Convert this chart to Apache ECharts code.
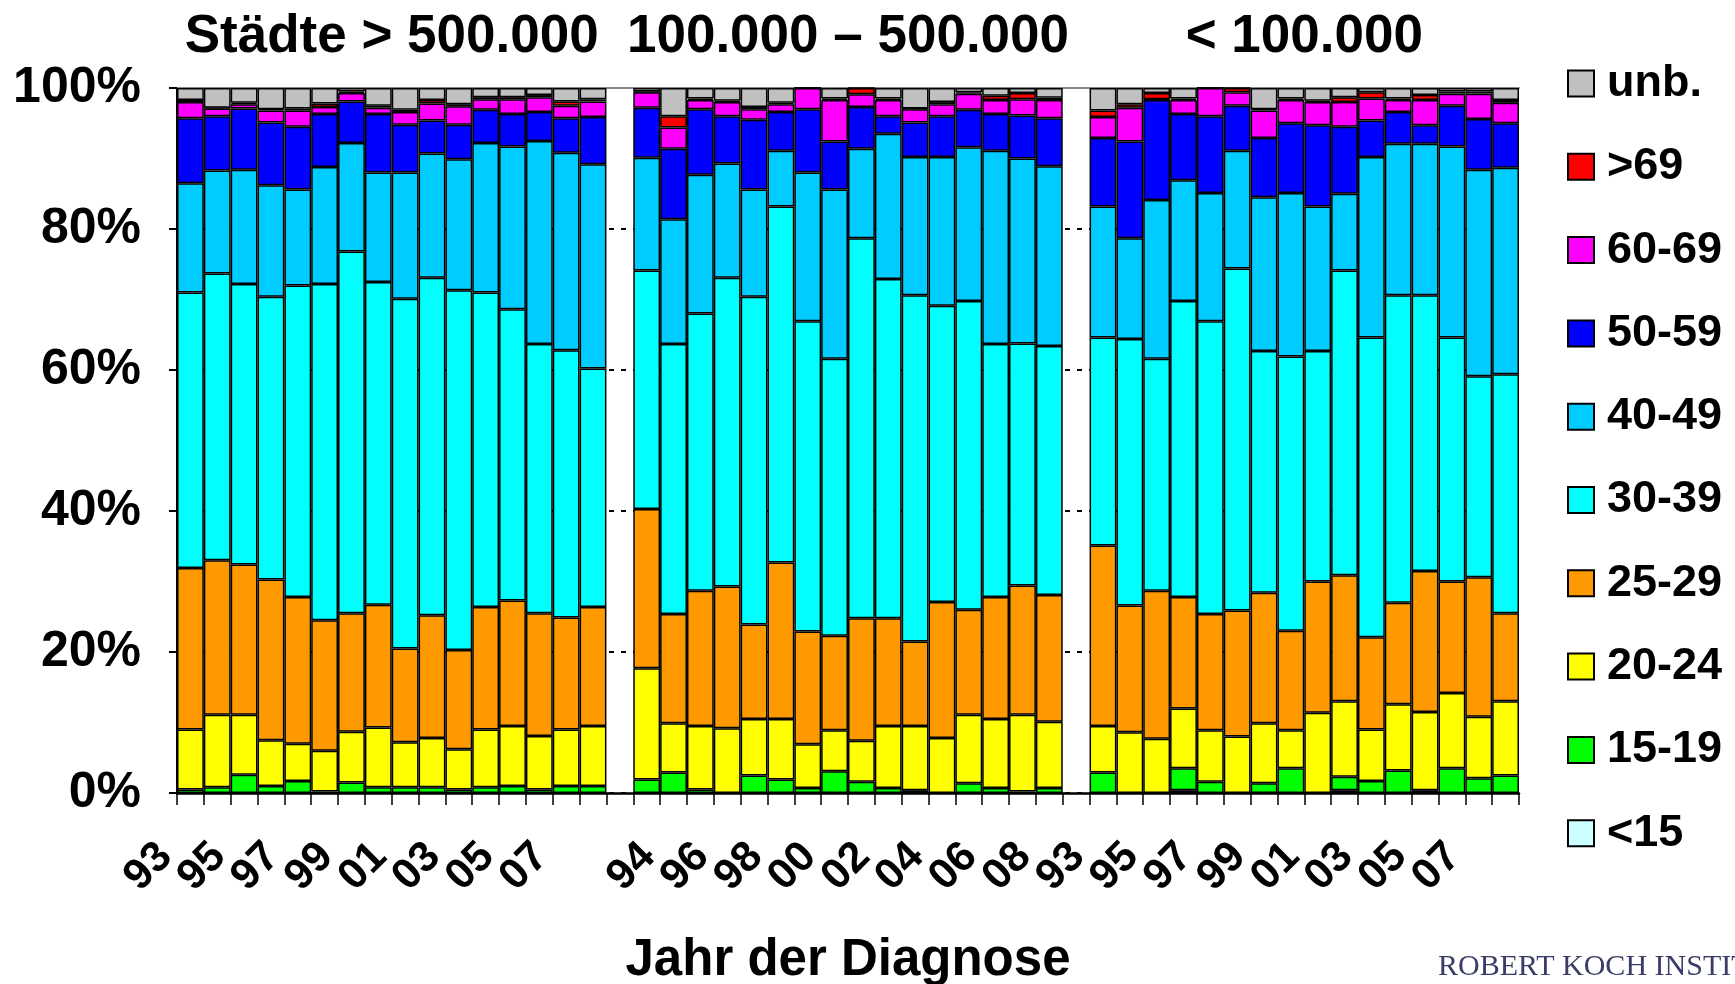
<!DOCTYPE html>
<html>
<head>
<meta charset="utf-8">
<script src="https://cdn.jsdelivr.net/npm/echarts@6/dist/echarts.min.js"></script>
<style>
  html, body { margin: 0; padding: 0; background: #ffffff; }
  #chart { width: 1735px; height: 984px; }
</style>
</head>
<body>
<div id="chart"></div>
<script>
// Diagnosis years shown in each of the three city-size panels
const years = ['93','94','95','96','97','98','99','00','01','02','03','04','05','06','07','08'];
const panelTitles = ['Städte > 500.000', '100.000 – 500.000', '< 100.000'];
const axisTitle = 'Jahr der Diagnose';
const sourceText = 'ROBERT KOCH INSTITUT';

// Age groups from the bottom of each stack to the top
const ageGroups = ['<15', '15-19', '20-24', '25-29', '30-39', '40-49', '50-59', '60-69', '>69', 'unb.'];
const groupColors = ['#CCFFFF', '#00FF00', '#FFFF00', '#FF9900', '#00FFFF', '#00CCFF', '#0000FF', '#FF00FF', '#FF0000', '#C0C0C0'];

// Shares in percent: 16 years for > 500.000, then 100.000–500.000, then < 100.000
const ageLt15 = [
  0, 0, 0, 0, 0, 0, 0, 0, 0, 0, 0, 0, 0, 0, 0, 0,
  0, 0, 0, 0, 0, 0, 0, 0, 0, 0, 0, 0, 0, 0, 0, 0,
  0, 0, 0, 0.4, 0, 0, 0, 0, 0, 0.4, 0, 0, 0, 0, 0, 0
];
const age15to19 = [
  0.5, 0.8, 2.6, 1.0, 1.7, 0.2, 1.5, 0.8, 0.8, 0.8, 0.5, 0.8, 1.0, 0.5, 1.0, 1.0,
  1.9, 2.9, 0.5, 0, 2.5, 1.9, 0.7, 3.1, 1.6, 0.7, 0.4, 0, 1.4, 0.7, 0.2, 0.7,
  2.9, 0, 0, 3.1, 1.6, 0, 1.4, 3.5, 0, 1.9, 1.7, 3.2, 0.4, 3.5, 2.1, 2.5
];
const age20to24 = [
  8.5, 10.3, 8.5, 6.5, 5.3, 5.8, 7.2, 8.5, 6.4, 7.0, 5.7, 8.2, 8.5, 7.6, 8.0, 8.5,
  15.8, 7.0, 9.0, 9.2, 8.0, 8.6, 6.2, 5.8, 5.8, 8.8, 9.1, 7.8, 9.7, 9.8, 10.9, 9.4,
  6.6, 8.6, 7.7, 8.5, 7.3, 8.0, 8.5, 5.4, 11.4, 10.7, 7.3, 9.4, 11.1, 10.7, 8.7, 10.5
];
const age25to29 = [
  22.9, 21.9, 21.3, 22.8, 20.8, 18.5, 16.8, 17.4, 13.3, 17.4, 14.1, 17.4, 17.8, 17.4, 15.9, 16.9,
  22.6, 15.5, 19.2, 20.1, 13.4, 22.2, 16.0, 13.4, 17.4, 15.3, 12.0, 19.3, 14.9, 17.3, 18.3, 18.0,
  25.6, 18.0, 21.0, 15.8, 16.5, 17.9, 18.5, 14.1, 18.6, 17.9, 13.1, 14.4, 20.0, 15.8, 19.8, 12.5
];
const age30to39 = [
  39.1, 40.7, 39.8, 40.1, 44.2, 47.7, 51.3, 45.8, 49.6, 47.9, 51.0, 44.6, 41.3, 38.2, 37.9, 33.8,
  33.8, 38.3, 39.3, 43.8, 46.5, 50.5, 44.0, 39.3, 53.9, 48.1, 49.1, 42.0, 43.8, 35.9, 34.3, 35.3,
  29.5, 37.8, 32.9, 42.0, 41.5, 48.5, 34.3, 38.9, 32.7, 43.2, 42.5, 43.6, 39.1, 34.6, 28.5, 33.9
];
const age40to49 = [
  15.5, 14.6, 16.2, 15.8, 13.6, 16.6, 15.4, 15.5, 17.9, 17.6, 18.6, 21.2, 23.1, 28.8, 28.0, 29.0,
  16.0, 17.7, 19.7, 16.2, 15.2, 7.9, 21.1, 24.0, 12.7, 20.6, 19.6, 21.1, 21.8, 27.4, 26.2, 25.5,
  18.6, 14.3, 22.5, 17.1, 18.2, 16.7, 21.8, 23.2, 20.5, 10.9, 25.6, 21.5, 21.5, 27.1, 29.3, 29.3
];
const age50to59 = [
  9.2, 7.7, 8.7, 8.9, 8.9, 7.5, 5.9, 8.3, 6.8, 4.7, 4.9, 4.7, 4.6, 4.1, 4.9, 6.7,
  7.1, 10.0, 9.3, 6.7, 9.9, 5.5, 9.0, 6.8, 5.9, 2.5, 4.9, 5.8, 5.3, 5.2, 6.1, 6.8,
  9.7, 13.7, 14.2, 9.4, 10.9, 6.4, 8.4, 9.9, 11.5, 9.5, 5.2, 4.5, 2.6, 5.8, 7.2, 6.3
];
const age60to69 = [
  2.3, 1.1, 0.6, 1.7, 2.3, 1.0, 1.2, 0.9, 1.8, 2.4, 2.6, 1.5, 2.1, 2.1, 1.8, 2.2,
  2.2, 3.0, 1.3, 2.0, 1.5, 1.1, 3.0, 5.9, 1.8, 2.3, 1.9, 1.7, 2.3, 2.0, 2.3, 2.6,
  3.0, 4.8, 0.1, 2.0, 4.0, 1.9, 3.9, 3.3, 3.3, 3.5, 3.1, 1.7, 3.6, 1.7, 3.6, 2.9
];
const ageGt69 = [
  0.3, 0.1, 0.2, 0.2, 0.3, 0.5, 0.2, 0.3, 0.3, 0.5, 0.3, 0.3, 0.3, 0.3, 0.6, 0.3,
  0.1, 1.6, 0.2, 0.2, 0.3, 0.2, 0, 0.2, 0.9, 0.2, 0.1, 0.3, 0.2, 0.6, 0.9, 0.3,
  0.9, 0.5, 0.9, 0.2, 0, 0.6, 0.2, 0.2, 0.2, 0.7, 0.9, 0.2, 0.7, 0.3, 0.3, 0.4
];
const ageUnknown = [
  1.7, 2.8, 2.1, 3.0, 2.9, 2.2, 0.5, 2.5, 3.1, 1.7, 2.3, 1.3, 1.3, 1.0, 1.9, 1.6,
  0.5, 4.0, 1.5, 1.8, 2.7, 2.1, 0, 1.5, 0, 1.5, 2.9, 2.0, 0.6, 1.1, 0.7, 1.4,
  3.2, 2.3, 0.7, 1.5, 0, 0, 3.0, 1.5, 1.8, 1.3, 0.6, 1.5, 1.0, 0.5, 0.5, 1.7
];

const groupShares = [ageLt15, age15to19, age20to24, age25to29, age30to39,
                     age40to49, age50to59, age60to69, ageGt69, ageUnknown];

// One continuous category axis: three panels separated by an empty slot
const categories = [...years, '', ...years, '', ...years];
const nYears = years.length;

// 100 % stacking: scale every column to its own total
const totals = groupShares[0].map((_, i) => groupShares.reduce((s, arr) => s + arr[i], 0));
function withGaps(arr) {
  const pct = arr.map((v, i) => v / totals[i] * 100);
  return [...pct.slice(0, nYears), '-', ...pct.slice(nYears, 2 * nYears), '-', ...pct.slice(2 * nYears)];
}

const FONT = '"Liberation Sans", Arial, sans-serif';
const gridLeft = 177, gridRight = 216, gridTop = 88, gridBottom = 191;
// year labels sit a little to the left of their columns
const labelShift = 25;

const series = ageGroups.map((name, i) => ({
  name,
  type: 'bar',
  stack: 'share',
  xAxisIndex: 0,
  yAxisIndex: 0,
  barCategoryGap: '0%',
  data: withGaps(groupShares[i]),
  itemStyle: { color: groupColors[i], borderColor: '#000', borderWidth: 1.5 },
  emphasis: { disabled: true },
  animation: false
}));

// Panel centres on the category axis
const plotWidth = 1735 - gridLeft - gridRight;
const band = plotWidth / categories.length;
const panelCentre = p => gridLeft + (p * (nYears + 1) + nYears / 2) * band;

const chart = echarts.init(document.getElementById('chart'), null, { renderer: 'canvas' });
chart.setOption({
  backgroundColor: '#ffffff',
  animation: false,
  grid: [
    { left: gridLeft, right: gridRight, top: gridTop, bottom: gridBottom },
    { left: gridLeft - labelShift, right: gridRight + labelShift, top: gridTop, bottom: gridBottom }
  ],
  legend: {
    data: ageGroups.slice().reverse(),
    orient: 'vertical',
    left: 1567,
    top: 61,
    padding: 0,
    icon: 'rect',
    itemWidth: 26,
    itemHeight: 26,
    itemGap: 38.3,
    selectedMode: false,
    textStyle: {
      fontFamily: FONT, fontSize: 45, fontWeight: 'bold', color: '#000',
      lineHeight: 44, padding: [0, 0, 0, 8]
    }
  },
  xAxis: [
    {
      type: 'category', gridIndex: 0, position: 'bottom', data: categories,
      axisLine: { lineStyle: { color: '#000', width: 2.5 } },
      axisTick: { show: true, interval: 0, length: 12, lineStyle: { color: '#000', width: 1.5 } },
      axisLabel: { show: false },
      splitLine: { show: false }
    },
    {
      type: 'category', gridIndex: 0, position: 'top', data: categories,
      axisLine: { show: true, lineStyle: { color: '#8a8a8a', width: 2 } },
      axisTick: { show: false },
      axisLabel: { show: false },
      splitLine: { show: false }
    },
    {
      type: 'category', gridIndex: 1, position: 'bottom', data: categories,
      axisLine: { show: false },
      axisTick: { show: false },
      splitLine: { show: false },
      axisLabel: {
        interval: 0, rotate: 45, margin: 57,
        showMinLabel: true, showMaxLabel: true, hideOverlap: false,
        // every second year is labelled
        formatter: (value, index) => (index % 2 === 0 ? value : ''),
        fontFamily: FONT, fontSize: 43, fontWeight: 'bold', color: '#000'
      }
    }
  ],
  yAxis: [
    {
      type: 'value', gridIndex: 0, min: 0, max: 100, interval: 20,
      axisLine: { show: true, lineStyle: { color: '#000', width: 2 } },
      axisTick: { show: true, length: 8, lineStyle: { color: '#000', width: 2 } },
      axisLabel: {
        formatter: '{value}%', margin: 36,
        fontFamily: FONT, fontSize: 50, fontWeight: 'bold', color: '#000'
      },
      splitLine: { show: true, lineStyle: { color: '#000', width: 2, type: [5, 7] } }
    },
    { type: 'value', gridIndex: 1, min: 0, max: 100, show: false }
  ],
  graphic: [
    ...panelTitles.map((t, p) => ({
      type: 'text', x: panelCentre(p), y: 11, silent: true,
      style: { text: t, fontFamily: FONT, fontSize: 53, fontWeight: 'bold', fill: '#000', align: 'center', verticalAlign: 'top' }
    })),
    {
      type: 'text', x: gridLeft + plotWidth / 2, y: 935, silent: true,
      style: { text: axisTitle, fontFamily: FONT, fontSize: 51, fontWeight: 'bold', fill: '#000', align: 'center', verticalAlign: 'top' }
    },
    {
      type: 'text', x: 1438, y: 952, silent: true,
      style: { text: sourceText, fontFamily: '"Liberation Serif", "DejaVu Serif", serif', fontSize: 30, fill: '#3a3d68', align: 'left', verticalAlign: 'top' }
    }
  ],
  series
});
</script>
</body>
</html>
